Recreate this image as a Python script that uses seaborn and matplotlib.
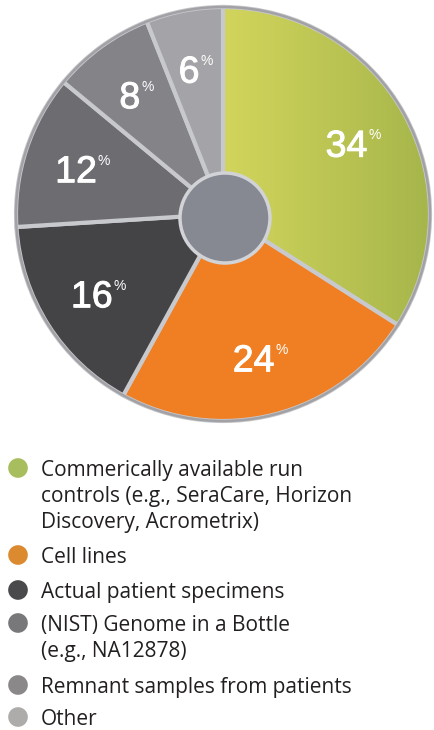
import numpy as np
import matplotlib
matplotlib.use("Agg")
import matplotlib.pyplot as plt
import matplotlib.patheffects as pe
import seaborn as sns
from matplotlib.patches import Circle
from matplotlib.colors import LinearSegmentedColormap

# Reference material sources and their shares (percent)
categories = [
    "Commerically available run\ncontrols (e.g., SeraCare, Horizon\nDiscovery, Acrometrix)",
    "Cell lines",
    "Actual patient specimens",
    "(NIST) Genome in a Bottle\n(e.g., NA12878)",
    "Remnant samples from patients",
    "Other",
]
shares = [34, 24, 16, 12, 8, 6]
wedge_colors = ["#bcc652", "#f07e22", "#444446", "#6c6c71", "#838388", "#a4a4a8"]
legend_colors = ["#a8bd5d", "#db8a30", "#4a4a4c", "#78787b", "#8a8888", "#aeacaa"]

sns.set_theme(style="white")
plt.rcParams["font.family"] = ["Liberation Sans", "DejaVu Sans"]

W, H = 434, 730
fig = plt.figure(figsize=(W / 100, H / 100), dpi=100)
fig.patch.set_facecolor("white")
ax = fig.add_axes([0, 0, 1, 1])

cx, cy, R = 223, H - 214, 207
wedges, _ = ax.pie(
    shares, colors=wedge_colors, startangle=90, counterclock=False,
    center=(cx, cy), radius=R,
    wedgeprops=dict(edgecolor="#c8c9cd", linewidth=3, zorder=2),
)
ax.set_xlim(0, W)
ax.set_ylim(0, H)
ax.set_aspect("equal")
ax.axis("off")

# soft yellow-to-olive shading on the largest wedge
green = wedges[0]
green.set_facecolor("none")
cmap = LinearSegmentedColormap.from_list("olive", ["#d2d55c", "#a6b64b"])
im = ax.imshow(np.linspace(0, 1, 256)[None, :], extent=(cx, cx + R, cy - R, cy + R),
               cmap=cmap, aspect="auto", zorder=1.5, interpolation="bicubic")
im.set_clip_path(green)
ax.set_xlim(0, W)
ax.set_ylim(0, H)

# outer rim and centre hub
ax.add_patch(Circle((cx, cy), R, fill=False, edgecolor="#a2a2a6", linewidth=1.8, zorder=3))
ax.add_patch(Circle((cx + 2, cy - 4), 45, facecolor="#868892", edgecolor="#d2d3d7",
                    linewidth=2.5, zorder=4))

# percentage labels inside the wedges: large number with a small raised % sign
thicken = [pe.withStroke(linewidth=0.7, foreground="white")]
fig.canvas.draw()
renderer = fig.canvas.get_renderer()
inv = ax.transData.inverted()
start = 90.0
for w, val in zip(wedges, shares):
    mid = np.deg2rad(start - val * 3.6 / 2)
    start -= val * 3.6
    x = cx + 0.715 * R * np.cos(mid)
    y = cy + 0.715 * R * np.sin(mid)
    num = ax.text(x, y, f"{val}", color="white", fontsize=27, ha="center",
                  va="center_baseline", zorder=5, path_effects=thicken)
    pct = ax.text(x, y, "%", color="white", fontsize=10, ha="left", va="top", zorder=5)
    bb_n = num.get_window_extent(renderer)
    bb_p = pct.get_window_extent(renderer)
    shift = bb_p.width / 2
    (nx0, ny0), (nx1, ny1) = inv.transform([[bb_n.x0, bb_n.y0], [bb_n.x1, bb_n.y1]])
    num.set_position((x - shift, y))
    # top of the digits sits about 0.36 em above the centre baseline anchor
    digit_top = y + 27 * 100 / 72 * 0.36
    pct.set_position((nx1 - shift + 1, digit_top + 1))

# legend with round markers
legend_y = [468, 555, 590, 623, 685, 717]
line_step = 26
lax = fig.add_axes([0, 0, 1, 1], facecolor="none")
sns.scatterplot(x=[18] * len(categories), y=legend_y, hue=categories,
                palette=legend_colors, s=200, edgecolor="none", legend=False, ax=lax)
lax.set_xlim(0, W)
lax.set_ylim(H, 0)
lax.axis("off")
for lab, ly in zip(categories, legend_y):
    for i, line in enumerate(lab.split("\n")):
        lax.text(41, ly + i * line_step, line, fontsize=15, color="#231f20",
                 ha="left", va="center_baseline", family=["Open Sans", "DejaVu Sans"])

fig.savefig("out.png", dpi=100, facecolor="white")
